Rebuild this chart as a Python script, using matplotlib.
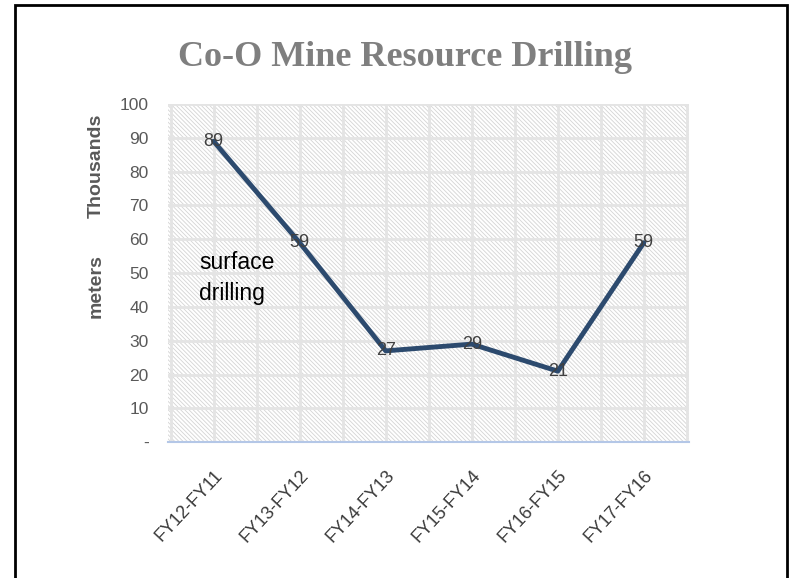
import matplotlib
matplotlib.use("Agg")
import matplotlib.pyplot as plt
from matplotlib import font_manager
from matplotlib.patches import Rectangle
import numpy as np

# data (thousands of meters)
periods = ["FY12-FY11", "FY13-FY12", "FY14-FY13", "FY15-FY14", "FY16-FY15", "FY17-FY16"]
meters_k = [89, 59, 27, 29, 21, 59]
y_ticks = [0, 10, 20, 30, 40, 50, 60, 70, 80, 90, 100]
y_ticklabels = ["-", "10", "20", "30", "40", "50", "60", "70", "80", "90", "100"]

installed = {f.name for f in font_manager.fontManager.ttflist}
body_font = "Liberation Sans Narrow" if "Liberation Sans Narrow" in installed else "Liberation Sans"

plt.rcParams["hatch.linewidth"] = 0.6

fig = plt.figure(figsize=(8.01, 5.78), dpi=100)
ax = fig.add_axes([0.2097, 0.235, 0.650, 0.585])

x = np.arange(len(periods))
ax.set_xlim(-0.53, len(periods) - 0.48)
ax.set_ylim(0, 100)

# hatched plot area
ax.patch.set_visible(False)
ax.add_patch(Rectangle((0, 0), 1, 1, transform=ax.transAxes, facecolor="white",
                       edgecolor="#d4d4d4", hatch="\\" * 8, lw=0, zorder=0))

# gridlines
for yv in y_ticks[1:]:
    ax.axhline(yv, color="#e4e4e4", lw=2, zorder=1)
for xv in np.arange(-0.5, len(periods), 0.5):
    ax.axvline(xv, color="#e4e4e4", lw=2, zorder=1)

ax.plot(x, meters_k, color="#2c4a6e", lw=3.5, zorder=3, solid_capstyle="round")
for xi, v in zip(x, meters_k):
    ax.text(xi, v, str(v), ha="center", va="center", fontsize=13, color="#404040",
            family=body_font, zorder=4)

for s in ["top", "right", "left"]:
    ax.spines[s].set_visible(False)
ax.spines["bottom"].set_color("#b4c7e7")
ax.spines["bottom"].set_linewidth(1.5)

ax.set_yticks(y_ticks)
ax.set_yticklabels(y_ticklabels, fontsize=12.5, color="#595959", family=body_font)
ax.set_xticks(x)
ax.set_xticklabels(periods, rotation=47, ha="right", rotation_mode="anchor",
                   fontsize=13, color="#3a3a3a", family=body_font)
ax.tick_params(axis="y", length=0, pad=14)
ax.tick_params(axis="x", length=0, pad=18)

ax.text(-0.17, 48.5, "surface\ndrilling", fontsize=16.5, color="black", family=body_font,
        ha="left", va="center", linespacing=1.45, zorder=4)

fig.text(0.120, 0.713, "Thousands", rotation=90, ha="center", va="center",
         fontsize=14, color="#595959", fontweight="bold", family=body_font)
fig.text(0.120, 0.505, "meters", rotation=90, ha="center", va="center",
         fontsize=14, color="#595959", fontweight="bold", family=body_font)

fig.text(0.506, 0.9, "Co-O Mine Resource Drilling", ha="center", va="center",
         fontsize=26, color="#7f7f7f", fontweight="bold", family="Liberation Serif")

# chart border
fig.add_artist(Rectangle((15 / 801, -0.05), (787 - 15) / 801, 1 - 5 / 578 + 0.05,
                         transform=fig.transFigure, fill=False, edgecolor="black", lw=2))

fig.savefig("out.png", dpi=100)
